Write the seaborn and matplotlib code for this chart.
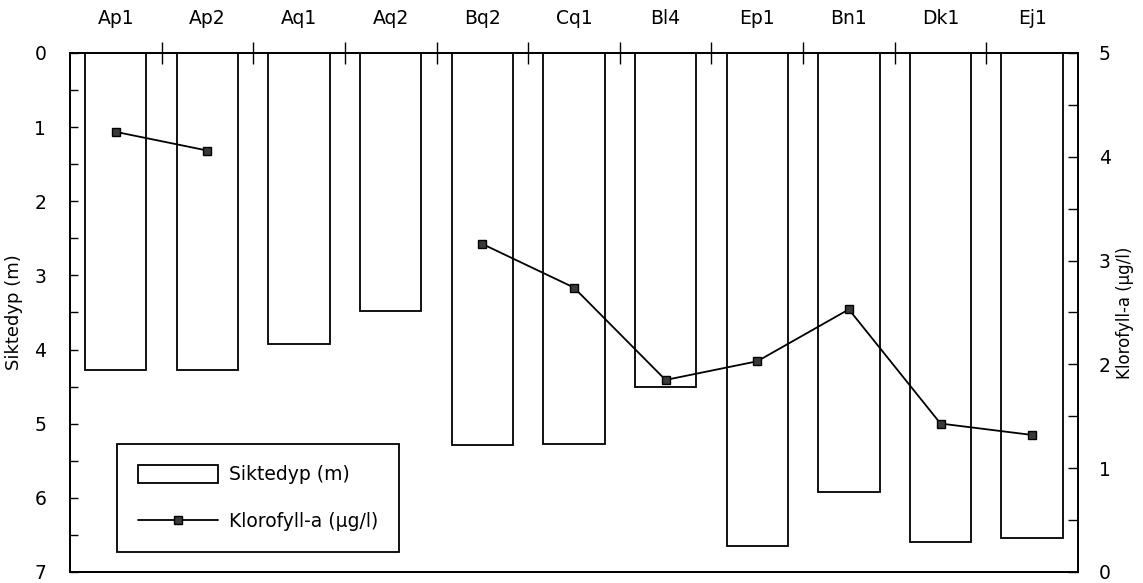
import numpy as np
import pandas as pd
import matplotlib
matplotlib.use("Agg")
import matplotlib.pyplot as plt
import seaborn as sns
from matplotlib.patches import Patch
from matplotlib.lines import Line2D
from matplotlib.ticker import MultipleLocator, FixedLocator

# Sampling stations
stations = ["Ap1", "Ap2", "Aq1", "Aq2", "Bq2", "Cq1", "Bl4", "Ep1", "Bn1", "Dk1", "Ej1"]
# Secchi depth (m)
siktedyp = [4.28, 4.27, 3.93, 3.48, 5.29, 5.27, 4.50, 6.65, 5.92, 6.59, 6.54]
# Chlorophyll-a (µg/l); no measurement at Aq1 and Aq2
klorofyll = [4.24, 4.06, np.nan, np.nan, 3.16, 2.74, 1.85, 2.03, 2.53, 1.43, 1.32]

df = pd.DataFrame({"stasjon": stations, "siktedyp": siktedyp, "klorofyll": klorofyll})

sns.set_theme(style="white")
plt.rcParams["font.family"] = ["DejaVu Sans"]
plt.rcParams["text.color"] = "black"
plt.rcParams["axes.labelcolor"] = "black"
plt.rcParams["xtick.color"] = "black"
plt.rcParams["ytick.color"] = "black"
FS = 13.5

fig = plt.figure(figsize=(11.43, 5.83), dpi=100)
ax = fig.add_axes([0.0612, 0.0189, 0.8819, 0.8902])

sns.barplot(data=df, x="stasjon", y="siktedyp", ax=ax, fill=False,
            edgecolor="black", linewidth=1.3, width=0.67, errorbar=None)

ax.set_ylim(7, 0)
ax.set_xlim(-0.5, len(stations) - 0.5)
ax.yaxis.set_major_locator(MultipleLocator(1))
ax.yaxis.set_minor_locator(MultipleLocator(0.5))
ax.tick_params(axis="y", which="both", direction="in", length=6, width=1,
               color="black", labelcolor="black", labelsize=FS, pad=17, left=True)
ax.set_ylabel("Siktedyp (m)", fontsize=FS - 0.5, labelpad=8, color="black")

# Station names on top, separator ticks between stations
ax.xaxis.tick_top()
ax.xaxis.set_label_position("top")
ax.set_xticks(range(len(stations)))
ax.set_xticklabels(stations)
ax.xaxis.set_minor_locator(FixedLocator(np.arange(0.5, len(stations) - 1, 1.0)))
ax.tick_params(axis="x", which="major", length=0, labelsize=FS, labelcolor="black",
               pad=18, top=True)
ax.tick_params(axis="x", which="minor", direction="inout", length=16, width=1,
               color="black", top=True, bottom=False)
ax.set_xlabel("")

for s in ax.spines.values():
    s.set_visible(True)
    s.set_color("black")
    s.set_linewidth(1.3)

# Chlorophyll on a secondary axis
ax2 = ax.twinx()
ax2.plot(range(len(stations)), df["klorofyll"], color="black", linewidth=1.3,
         marker="s", markersize=6, markerfacecolor="#3a3a3a", markeredgecolor="black")
ax2.set_ylim(0, 5)
ax2.yaxis.set_major_locator(MultipleLocator(1))
ax2.yaxis.set_minor_locator(MultipleLocator(0.5))
ax2.tick_params(axis="y", which="both", direction="in", length=7, width=1,
                color="black", labelcolor="black", labelsize=FS, pad=15, right=True)
ax2.set_ylabel("Klorofyll-a (µg/l)", fontsize=FS - 1.5, labelpad=4, color="black")
ax2.grid(False)
for s in ax2.spines.values():
    s.set_color("black")
    s.set_linewidth(1.3)

handles = [
    Patch(facecolor="white", edgecolor="black", linewidth=1.3),
    Line2D([0], [0], color="black", linewidth=1.3, marker="s", markersize=6,
           markerfacecolor="#3a3a3a", markeredgecolor="black"),
]
leg = ax2.legend(handles, ["Siktedyp (m)", "Klorofyll-a (µg/l)"],
                 loc="lower left", bbox_to_anchor=(0.0466, 0.0385),
                 fontsize=FS, frameon=True, fancybox=False, edgecolor="black",
                 framealpha=1, handlelength=4.3, handleheight=1.1, handletextpad=0.6,
                 labelspacing=1.5, borderpad=1.1, borderaxespad=0)
leg.get_frame().set_linewidth(1.3)
for t in leg.get_texts():
    t.set_color("black")

fig.savefig("out.png", dpi=100)
